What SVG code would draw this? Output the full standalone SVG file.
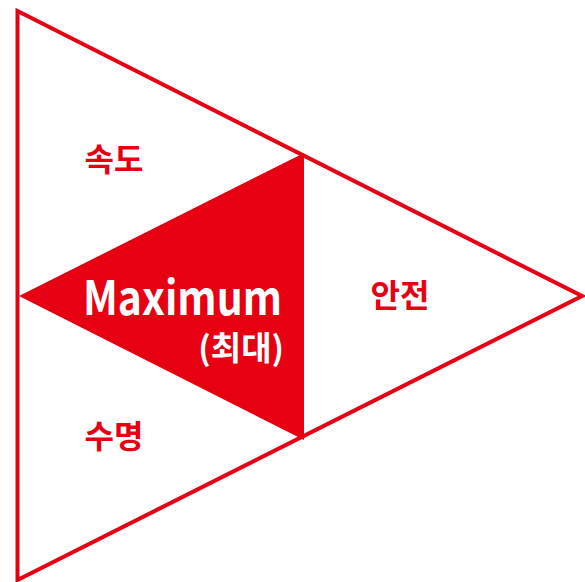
<svg xmlns="http://www.w3.org/2000/svg" width="585" height="582" viewBox="0 0 585 582">
<style>
.edge{fill:none;stroke:#e60012;stroke-width:4;stroke-linejoin:miter}
.lbl{font-family:"Noto Sans CJK KR","Noto Sans",sans-serif;font-weight:bold;fill:#e60012;font-size:32px}
.w{font-family:"Noto Sans CJK KR","Noto Sans",sans-serif;font-weight:bold;fill:#ffffff}
</style>
<rect width="585" height="582" fill="#ffffff"/>
<g id="connectors">
<polygon class="edge" points="17.5,11 582,296 17.5,580"/>
</g>
<g id="center">
<polygon points="19,296 304,153 304,440" fill="#e60012"/>
<text class="w" x="282" y="315" font-size="47" text-anchor="end" textLength="199" lengthAdjust="spacingAndGlyphs">Maximum</text>
<text class="w" x="284" y="360" font-size="33" text-anchor="end">(최대)</text>
</g>
<g id="speed"><text class="lbl" x="114" y="171" text-anchor="middle">속도</text></g>
<g id="safety"><text class="lbl" x="400" y="307" text-anchor="middle">안전</text></g>
<g id="life"><text class="lbl" x="114" y="448" text-anchor="middle">수명</text></g>
</svg>
